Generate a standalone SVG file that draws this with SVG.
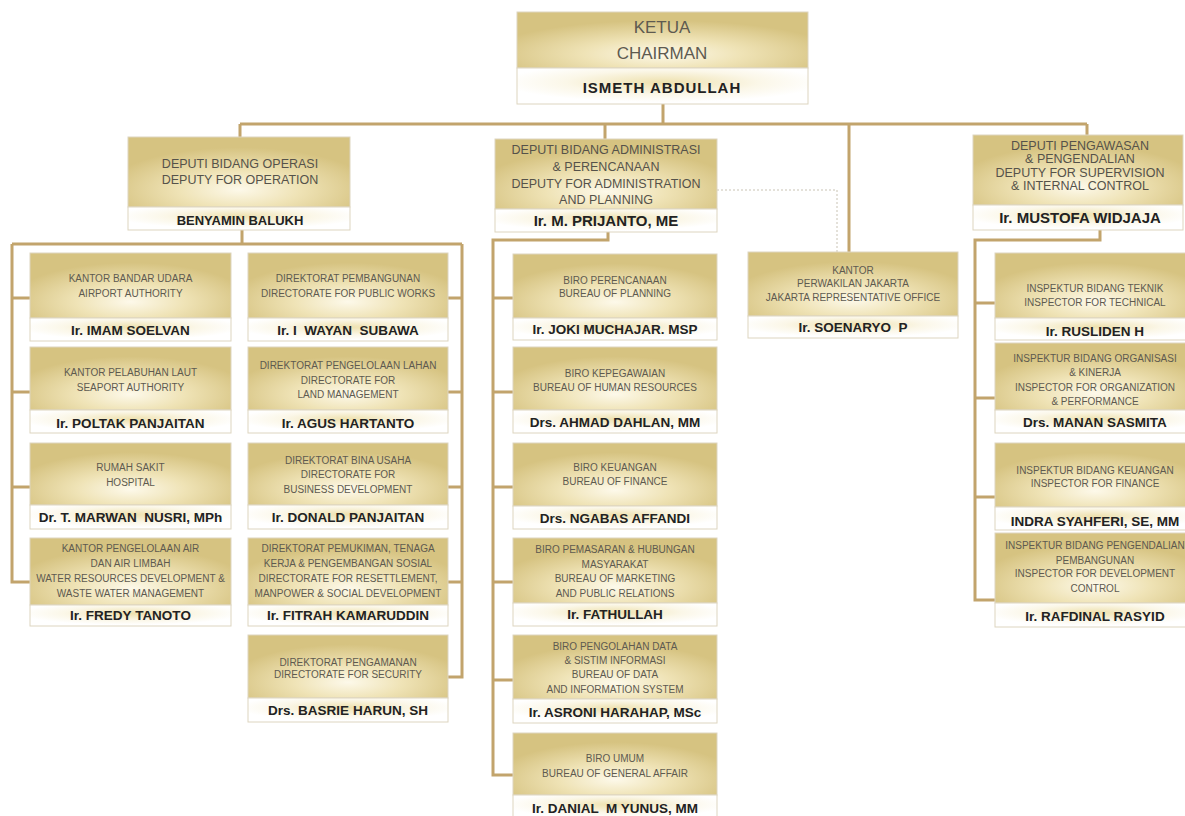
<svg xmlns="http://www.w3.org/2000/svg" width="1185" height="816" viewBox="0 0 1185 816">
<defs>
<radialGradient id="gold" cx="0.5" cy="0.75" r="0.6">
<stop offset="0" stop-color="#fdf9ea"/>
<stop offset="0.45" stop-color="#efe3b6"/>
<stop offset="1" stop-color="#d6c381"/>
</radialGradient>
<radialGradient id="band" cx="0.5" cy="0.4" r="0.55">
<stop offset="0" stop-color="#eee1ae"/>
<stop offset="0.6" stop-color="#fbf7e8"/>
<stop offset="1" stop-color="#ffffff"/>
</radialGradient>
<style>
.g{fill:url(#gold);stroke:#ddd5c0;stroke-width:1}
.b{fill:url(#band);stroke:#ddd5c0;stroke-width:1}
text{font-family:"Liberation Sans",Arial,sans-serif;text-anchor:middle}
.t{font-size:10px;fill:#5e5a50}
.d{font-size:12.5px;fill:#55524a}
.n{font-size:13.5px;font-weight:bold;fill:#222}
.dn{font-size:15px;font-weight:bold;fill:#222}
.dn2{font-size:13px;font-weight:bold;fill:#222}
.c{font-size:17px;fill:#5e5a50}
.cn{font-size:15px;font-weight:bold;fill:#222;letter-spacing:1px}
.ln{fill:none;stroke:#c2a46c;stroke-width:3}
.ds{fill:none;stroke:#c9c3b4;stroke-width:1;stroke-dasharray:2 2}
</style>
</defs>
<rect width="1185" height="816" fill="#ffffff"/>
<g id="connectors">
<path class="ln" d="M663 104V124M240 124H1087M240 124V137M605 124V139M849 124V252M1087 124V135"/>
<path class="ln" d="M242 230V244M12 244H462M12 244V582H30M12 298H30M12 392H30M12 487H30M462 244V677H448M462 298H448M462 392H448M462 487H448M462 582H448"/>
<path class="ln" d="M608 232V240H493V775H513M493 298H513M493 392H513M493 487H513M493 582H513M493 680H513"/>
<path class="ln" d="M1100 230V240H975V600H995M975 303H995M975 398H995M975 497H995"/>
<path class="ds" d="M717 190H837V252"/>
</g>
<g id="chairman">
<rect class="g" x="517" y="12" width="291" height="56"/>
<rect class="b" x="517" y="68" width="291" height="36"/>
<text class="c" x="662" y="33">KETUA</text>
<text class="c" x="662" y="59">CHAIRMAN</text>
<text class="cn" x="662" y="93">ISMETH ABDULLAH</text>
</g>
<g id="deputy-operation">
<rect class="g" x="128" y="137" width="222" height="70"/>
<rect class="b" x="128" y="207" width="222" height="23"/>
<text class="d" x="240" y="167.5">DEPUTI BIDANG OPERASI</text>
<text class="d" x="240" y="183.5">DEPUTY FOR OPERATION</text>
<text class="dn2" x="240" y="224.5">BENYAMIN BALUKH</text>
</g>
<g id="deputy-administration">
<rect class="g" x="495" y="139" width="222" height="70"/>
<rect class="b" x="495" y="209" width="222" height="23"/>
<text class="d" x="606" y="153.5">DEPUTI BIDANG ADMINISTRASI</text>
<text class="d" x="606" y="170.5">&amp; PERENCANAAN</text>
<text class="d" x="606" y="187.5">DEPUTY FOR ADMINISTRATION</text>
<text class="d" x="606" y="203.5">AND PLANNING</text>
<text class="dn" x="606" y="225.5">Ir. M. PRIJANTO, ME</text>
</g>
<g id="deputy-supervision">
<rect class="g" x="973" y="135" width="210" height="70"/>
<rect class="b" x="973" y="205" width="210" height="25"/>
<text class="d" x="1080" y="149.5">DEPUTI PENGAWASAN</text>
<text class="d" x="1080" y="162.5">&amp; PENGENDALIAN</text>
<text class="d" x="1080" y="176.5">DEPUTY FOR SUPERVISION</text>
<text class="d" x="1080" y="189.5">&amp; INTERNAL CONTROL</text>
<text class="dn" x="1080" y="222.5">Ir. MUSTOFA WIDJAJA</text>
</g>
<g id="airport">
<rect class="g" x="30" y="253" width="201" height="65"/>
<rect class="b" x="30" y="318" width="201" height="23"/>
<text class="t" x="130.5" y="281.5">KANTOR BANDAR UDARA</text>
<text class="t" x="130.5" y="296.5">AIRPORT AUTHORITY</text>
<text class="n" x="130.5" y="335">Ir. IMAM SOELVAN</text>
</g>
<g id="seaport">
<rect class="g" x="30" y="347" width="201" height="63"/>
<rect class="b" x="30" y="410" width="201" height="23"/>
<text class="t" x="130.5" y="375.5">KANTOR PELABUHAN LAUT</text>
<text class="t" x="130.5" y="390.5">SEAPORT AUTHORITY</text>
<text class="n" x="130.5" y="428">Ir. POLTAK PANJAITAN</text>
</g>
<g id="hospital">
<rect class="g" x="30" y="443" width="201" height="62"/>
<rect class="b" x="30" y="505" width="201" height="24"/>
<text class="t" x="130.5" y="470.5">RUMAH SAKIT</text>
<text class="t" x="130.5" y="485.5">HOSPITAL</text>
<text class="n" x="130.5" y="522" xml:space="preserve">Dr. T. MARWAN  NUSRI, MPh</text>
</g>
<g id="water">
<rect class="g" x="30" y="538" width="201" height="67"/>
<rect class="b" x="30" y="605" width="201" height="21"/>
<text class="t" x="130.5" y="551.5">KANTOR PENGELOLAAN AIR</text>
<text class="t" x="130.5" y="566.5">DAN AIR LIMBAH</text>
<text class="t" x="130.5" y="581.5">WATER RESOURCES DEVELOPMENT &amp;</text>
<text class="t" x="130.5" y="596.5">WASTE WATER MANAGEMENT</text>
<text class="n" x="130.5" y="620">Ir. FREDY TANOTO</text>
</g>
<g id="public-works">
<rect class="g" x="248" y="253" width="200" height="65"/>
<rect class="b" x="248" y="318" width="200" height="23"/>
<text class="t" x="348" y="281.5">DIREKTORAT PEMBANGUNAN</text>
<text class="t" x="348" y="296.5">DIRECTORATE FOR PUBLIC WORKS</text>
<text class="n" x="348" y="335" xml:space="preserve">Ir. I  WAYAN  SUBAWA</text>
</g>
<g id="land">
<rect class="g" x="248" y="347" width="200" height="63"/>
<rect class="b" x="248" y="410" width="200" height="23"/>
<text class="t" x="348" y="368.5">DIREKTORAT PENGELOLAAN LAHAN</text>
<text class="t" x="348" y="383.5">DIRECTORATE FOR</text>
<text class="t" x="348" y="397.5">LAND MANAGEMENT</text>
<text class="n" x="348" y="428">Ir. AGUS HARTANTO</text>
</g>
<g id="business">
<rect class="g" x="248" y="443" width="200" height="62"/>
<rect class="b" x="248" y="505" width="200" height="24"/>
<text class="t" x="348" y="463.5">DIREKTORAT BINA USAHA</text>
<text class="t" x="348" y="477.5">DIRECTORATE FOR</text>
<text class="t" x="348" y="492.5">BUSINESS DEVELOPMENT</text>
<text class="n" x="348" y="522">Ir. DONALD PANJAITAN</text>
</g>
<g id="resettlement">
<rect class="g" x="248" y="538" width="200" height="67"/>
<rect class="b" x="248" y="605" width="200" height="21"/>
<text class="t" x="348" y="551.5">DIREKTORAT PEMUKIMAN, TENAGA</text>
<text class="t" x="348" y="566.5">KERJA &amp; PENGEMBANGAN SOSIAL</text>
<text class="t" x="348" y="581.5">DIRECTORATE FOR RESETTLEMENT,</text>
<text class="t" x="348" y="596.5">MANPOWER &amp; SOCIAL DEVELOPMENT</text>
<text class="n" x="348" y="620">Ir. FITRAH KAMARUDDIN</text>
</g>
<g id="security">
<rect class="g" x="248" y="635" width="200" height="63"/>
<rect class="b" x="248" y="698" width="200" height="24"/>
<text class="t" x="348" y="665.5">DIREKTORAT PENGAMANAN</text>
<text class="t" x="348" y="677.5">DIRECTORATE FOR SECURITY</text>
<text class="n" x="348" y="715">Drs. BASRIE HARUN, SH</text>
</g>
<g id="planning">
<rect class="g" x="513" y="254" width="204" height="64"/>
<rect class="b" x="513" y="318" width="204" height="22"/>
<text class="t" x="615" y="283.5">BIRO PERENCANAAN</text>
<text class="t" x="615" y="296.5">BUREAU OF PLANNING</text>
<text class="n" x="615" y="334">Ir. JOKI MUCHAJAR. MSP</text>
</g>
<g id="human-resources">
<rect class="g" x="513" y="347" width="204" height="63"/>
<rect class="b" x="513" y="410" width="204" height="23"/>
<text class="t" x="615" y="376.5">BIRO KEPEGAWAIAN</text>
<text class="t" x="615" y="390.5">BUREAU OF HUMAN RESOURCES</text>
<text class="n" x="615" y="427">Drs. AHMAD DAHLAN, MM</text>
</g>
<g id="finance">
<rect class="g" x="513" y="443" width="204" height="63"/>
<rect class="b" x="513" y="506" width="204" height="23"/>
<text class="t" x="615" y="470.5">BIRO KEUANGAN</text>
<text class="t" x="615" y="484.5">BUREAU OF FINANCE</text>
<text class="n" x="615" y="523">Drs. NGABAS AFFANDI</text>
</g>
<g id="marketing">
<rect class="g" x="513" y="538" width="204" height="65"/>
<rect class="b" x="513" y="603" width="204" height="23"/>
<text class="t" x="615" y="552.5">BIRO PEMASARAN &amp; HUBUNGAN</text>
<text class="t" x="615" y="567.5">MASYARAKAT</text>
<text class="t" x="615" y="581.5">BUREAU OF MARKETING</text>
<text class="t" x="615" y="596.5">AND PUBLIC RELATIONS</text>
<text class="n" x="615" y="619">Ir. FATHULLAH</text>
</g>
<g id="data">
<rect class="g" x="513" y="635" width="204" height="64"/>
<rect class="b" x="513" y="699" width="204" height="24"/>
<text class="t" x="615" y="649.5">BIRO PENGOLAHAN DATA</text>
<text class="t" x="615" y="663.5">&amp; SISTIM INFORMASI</text>
<text class="t" x="615" y="677.5">BUREAU OF DATA</text>
<text class="t" x="615" y="692.5">AND INFORMATION SYSTEM</text>
<text class="n" x="615" y="717">Ir. ASRONI HARAHAP, MSc</text>
</g>
<g id="general-affair">
<rect class="g" x="513" y="733" width="204" height="62"/>
<rect class="b" x="513" y="795" width="204" height="24"/>
<text class="t" x="615" y="761.5">BIRO UMUM</text>
<text class="t" x="615" y="776.5">BUREAU OF GENERAL AFFAIR</text>
<text class="n" x="615" y="813" xml:space="preserve">Ir. DANIAL  M YUNUS, MM</text>
</g>
<g id="jakarta-office">
<rect class="g" x="748" y="252" width="210" height="64"/>
<rect class="b" x="748" y="316" width="210" height="22"/>
<text class="t" x="853" y="273.5">KANTOR</text>
<text class="t" x="853" y="286.5">PERWAKILAN JAKARTA</text>
<text class="t" x="853" y="300.5">JAKARTA REPRESENTATIVE OFFICE</text>
<text class="n" x="853" y="332" xml:space="preserve">Ir. SOENARYO  P</text>
</g>
<g id="technical">
<rect class="g" x="995" y="253" width="200" height="65"/>
<rect class="b" x="995" y="318" width="200" height="22"/>
<text class="t" x="1095" y="291.5">INSPEKTUR BIDANG TEKNIK</text>
<text class="t" x="1095" y="305.5">INSPECTOR FOR TECHNICAL</text>
<text class="n" x="1095" y="336">Ir. RUSLIDEN H</text>
</g>
<g id="organization">
<rect class="g" x="995" y="343" width="200" height="67"/>
<rect class="b" x="995" y="410" width="200" height="23"/>
<text class="t" x="1095" y="361.5">INSPEKTUR BIDANG ORGANISASI</text>
<text class="t" x="1095" y="375.5">&amp; KINERJA</text>
<text class="t" x="1095" y="390.5">INSPECTOR FOR ORGANIZATION</text>
<text class="t" x="1095" y="404.5">&amp; PERFORMANCE</text>
<text class="n" x="1095" y="427">Drs. MANAN SASMITA</text>
</g>
<g id="inspector-finance">
<rect class="g" x="995" y="443" width="200" height="64"/>
<rect class="b" x="995" y="507" width="200" height="23"/>
<text class="t" x="1095" y="473.5">INSPEKTUR BIDANG KEUANGAN</text>
<text class="t" x="1095" y="486.5">INSPECTOR FOR FINANCE</text>
<text class="n" x="1095" y="526">INDRA SYAHFERI, SE, MM</text>
</g>
<g id="development-control">
<rect class="g" x="995" y="533" width="200" height="70"/>
<rect class="b" x="995" y="603" width="200" height="24"/>
<text class="t" x="1095" y="548.5">INSPEKTUR BIDANG PENGENDALIAN</text>
<text class="t" x="1095" y="563.5">PEMBANGUNAN</text>
<text class="t" x="1095" y="576.5">INSPECTOR FOR DEVELOPMENT</text>
<text class="t" x="1095" y="591.5">CONTROL</text>
<text class="n" x="1095" y="621">Ir. RAFDINAL RASYID</text>
</g>
</svg>
